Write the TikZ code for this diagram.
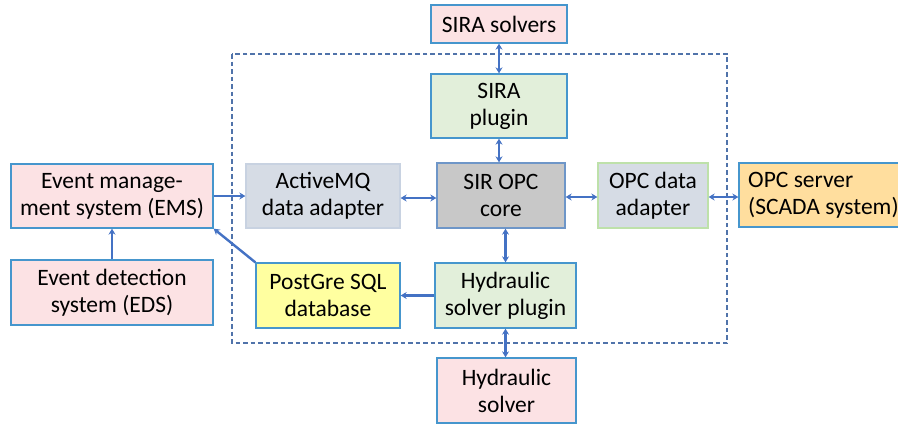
\documentclass[tikz,border=0pt]{standalone}
\usepackage{fontspec}
\setmainfont{Carlito}
\usetikzlibrary{arrows.meta}

\definecolor{edgeblue}{RGB}{70,150,205}
\definecolor{arrowblue}{RGB}{68,114,196}
\definecolor{dashblue}{RGB}{80,115,170}
\definecolor{pinkfill}{RGB}{252,226,228}
\definecolor{greenfill}{RGB}{226,239,218}
\definecolor{grayfill}{RGB}{200,200,200}
\definecolor{slatefill}{RGB}{214,220,229}
\definecolor{slateedge}{RGB}{200,210,225}
\definecolor{lightgreenedge}{RGB}{190,225,170}
\definecolor{yellowfill}{RGB}{255,255,160}
\definecolor{orangefill}{RGB}{255,222,158}
\definecolor{coreedge}{RGB}{110,150,200}

\tikzset{
  boxfont/.style={font=\fontsize{23.5bp}{27bp}\selectfont},
  box/.style={draw=edgeblue, line width=1.3bp, align=center, inner sep=0pt, boxfont},
  external/.style={box, fill=pinkfill},
  plugin/.style={box, fill=greenfill},
  link/.style={draw=arrowblue, line width=2.4bp,
    {Stealth[length=6bp,width=7bp]}-{Stealth[length=6bp,width=7bp]}},
  onelink/.style={draw=arrowblue, line width=2.4bp, -{Stealth[length=6bp,width=7bp]}},
}

\begin{document}
\begin{tikzpicture}[x=1bp, y=-1bp]
\useasboundingbox (0,0) rectangle (898,424);

% boundary of the SIR OPC system
\draw[dashblue, line width=1.3bp, dash pattern=on 4.5bp off 3bp] (232,54) rectangle (727,343);

% components
\node[external, minimum width=136bp, minimum height=38bp] (sols) at (499,24) {SIRA solvers};
\node[plugin, minimum width=136bp, minimum height=64bp] (siraplug) at (499,106) {SIRA\\plugin};
\node[box, draw=coreedge, fill=grayfill, minimum width=128bp, minimum height=65bp] (core) at (501,195.5) {SIR OPC\\core};
\node[box, draw=lightgreenedge, fill=slatefill, minimum width=110bp, minimum height=65bp] (opcad) at (653,195.5) {OPC data\\adapter};
\node[box, fill=orangefill, minimum width=163bp, minimum height=64bp] (opcsrv) at (820.5,195) {};
\node[align=left, anchor=west, inner sep=0pt, boxfont] (opcsrvtext) at (748,195) {OPC server\\(SCADA system)};
\node[external, minimum width=202bp, minimum height=64bp] (ems) at (112,196) {Event manage-\\ment system (EMS)};
\node[box, draw=slateedge, fill=slatefill, minimum width=154bp, minimum height=64bp] (amq) at (323,196) {ActiveMQ\\data adapter};
\node[external, minimum width=202bp, minimum height=65bp] (eds) at (112,292.5) {Event detection\\system (EDS)};
\node[box, fill=yellowfill, minimum width=144bp, minimum height=65bp] (pg) at (328,295.5) {PostGre SQL\\database};
\node[plugin, minimum width=141bp, minimum height=65bp] (hplug) at (505.5,295.5) {Hydraulic\\solver plugin};
\node[external, minimum width=139bp, minimum height=65bp] (hsolv) at (506.5,390.5) {Hydraulic\\solver};

% connections
\draw[link] (sols.south) -- (sols.south |- siraplug.north);
\draw[link] (siraplug.south) -- (siraplug.south |- core.north);
\draw[link] ([yshift=-2bp]amq.east) -- ([yshift=-2bp]amq.east -| core.west);
\draw[link] ([yshift=-1.5bp]core.east) -- ([yshift=-1.5bp]core.east -| opcad.west);
\draw[link] ([yshift=-1.5bp]opcad.east) -- ([yshift=-1.5bp]opcad.east -| opcsrv.west);
\draw[link] (hplug.north |- core.south) -- (hplug.north);
\draw[link] (hplug.south) -- (hplug.south |- hsolv.north);
\draw[onelink] (hplug.west) -- (hplug.west -| pg.east);
\draw[onelink] (pg.north west) -- (ems.south east);
\draw[onelink] (ems.east) -- (ems.east -| amq.west);
\draw[onelink] (eds.north) -- (ems.south);
\end{tikzpicture}
\end{document}
